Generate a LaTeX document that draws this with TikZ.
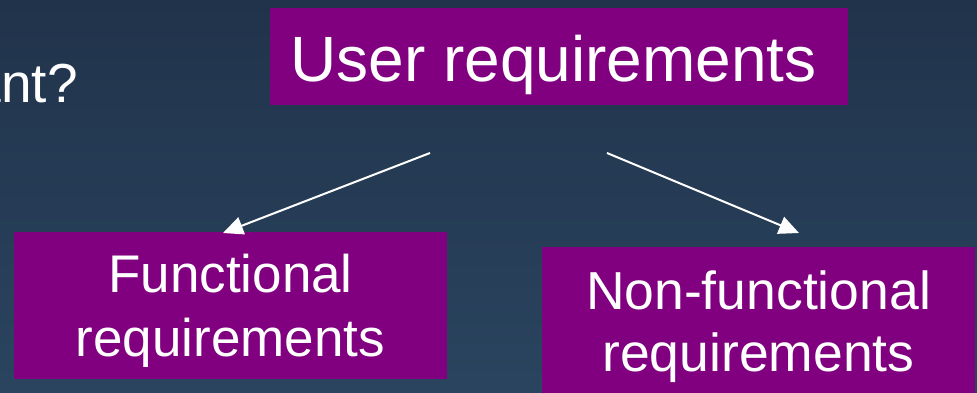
\documentclass[tikz,border=0pt]{standalone}
\usepackage{fontspec}
\setmainfont{Liberation Sans}
\usetikzlibrary{arrows.meta}
\definecolor{bgtop}{HTML}{21334B}
\definecolor{bgbot}{HTML}{2A445F}
\definecolor{boxpurple}{HTML}{800080}
\tikzset{
  reqbox/.style={fill=boxpurple, inner sep=0pt},
  boxtext/.style={text=white, inner sep=0pt, anchor=base},
  conn/.style={draw=white, line width=2pt, -{Triangle[length=20pt,width=18pt]}}
}
\begin{document}
\begin{tikzpicture}[x=1pt,y=1pt]
\useasboundingbox (0,0) rectangle (977,393);
\clip (0,0) rectangle (977,393);
\shade[top color=bgtop, bottom color=bgbot] (0,0) rectangle (977,393);
\node[text=white, anchor=base east, font=\fontsize{55}{66}\selectfont, inner sep=0pt] (q) at (78,290.3) {ant?};
% boxes
\node[reqbox, minimum width=578pt, minimum height=97pt] (top) at (559,336.5) {};
\node[reqbox, minimum width=433pt, minimum height=147pt] (left) at (230.5,87.5) {};
\node[reqbox, minimum width=433pt, minimum height=147pt] (right) at (758.5,72.5) {};
% texts
\node[boxtext, font=\fontsize{64}{76}\selectfont] (toptext) at (553.5,311) {User requirements};
\node[boxtext, font=\fontsize{53}{64}\selectfont] (lefta) at (230.5,100) {Functional};
\node[boxtext, font=\fontsize{53}{64}\selectfont] (leftb) at (230.5,36) {requirements};
\node[boxtext, font=\fontsize{53.5}{64}\selectfont] (righta) at (758.5,83) {Non-functional};
\node[boxtext, font=\fontsize{53.5}{64}\selectfont] (rightb) at (758.5,21) {requirements};
% connectors
\coordinate (s1) at (430,240);
\coordinate (e1) at (223,160);
\coordinate (s2) at (607,240);
\coordinate (e2) at (799,160);
\draw[conn] (s1) -- (e1);
\draw[conn] (s2) -- (e2);
\end{tikzpicture}
\end{document}
